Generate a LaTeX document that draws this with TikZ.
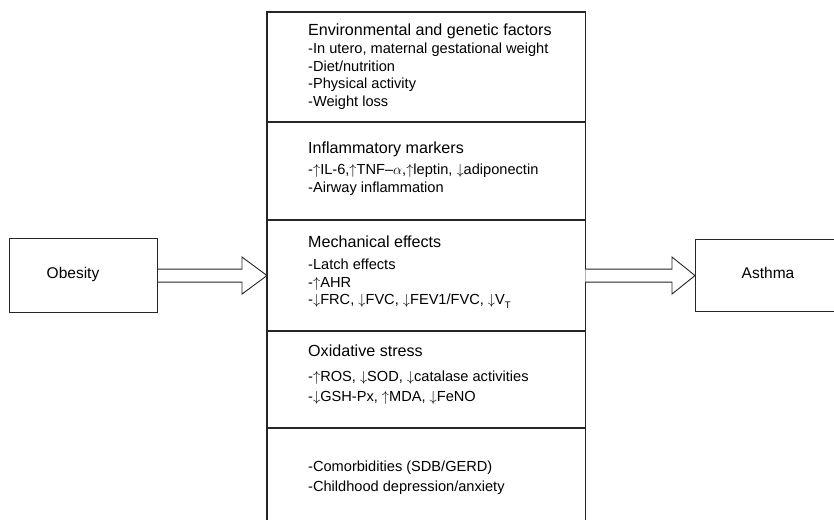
\documentclass[tikz,border=0pt]{standalone}
\usepackage{fontspec}
\setmainfont{Liberation Sans}
\usetikzlibrary{calc}
\begin{document}
\begin{tikzpicture}[x=1pt,y=-1pt,
  frame/.style={draw=black!85, line width=1.1pt},
  sectitle/.style={anchor=base west, inner sep=0pt, font=\fontsize{16.1}{18}\selectfont},
  item/.style={anchor=base west, inner sep=0pt, font=\fontsize{14.6}{17}\selectfont},
  endbox/.style={draw=black!85, line width=1.1pt, rectangle, inner sep=0pt},
  endtext/.style={anchor=base, inner sep=0pt, font=\fontsize{15.5}{18}\selectfont},
  blockarrow/.style={draw=black!85, line width=0.9pt, fill=white, line join=miter}]
\useasboundingbox (0,0) rectangle (834,519);
\clip (0,0) rectangle (834,519);

% main column
\node[minimum width=318pt, minimum height=520pt, anchor=north west, inner sep=0pt] (main) at (267,12) {};
\draw[frame] (main.south west) -- (main.north west) -- (main.north east) -- (main.south east);
\draw[frame] (main.west |- 0,122) -- (main.east |- 0,122);
\draw[frame] (main.west |- 0,220) -- (main.east |- 0,220);
\draw[frame] (main.west |- 0,331) -- (main.east |- 0,331);
\draw[frame] (main.west |- 0,428) -- (main.east |- 0,428);

% section 1
\node[sectitle] (s1t) at (308,36) {Environmental and genetic factors};
\node[item] (s1a) at (308,53.5) {-In utero, maternal gestational weight};
\node[item] (s1b) at (308,71) {-Diet/nutrition};
\node[item] (s1c) at (308,88.5) {-Physical activity};
\node[item] (s1d) at (308,106) {-Weight loss};

% section 2
\node[sectitle] (s2t) at (308,153) {Inflammatory markers};
\node[item] (s2a) at (308,174) {-$\uparrow$IL-6,$\uparrow$TNF\textendash$\alpha$,$\uparrow$leptin, $\downarrow$adiponectin};
\node[item] (s2b) at (308,192.5) {-Airway inflammation};

% section 3
\node[sectitle] (s3t) at (308,247) {Mechanical effects};
\node[item] (s3a) at (308,269.5) {-Latch effects};
\node[item] (s3b) at (308,287) {-$\uparrow$AHR};
\node[item] (s3c) at (308,304) {-$\downarrow$FRC, $\downarrow$FVC, $\downarrow$FEV1/FVC, $\downarrow$V\raisebox{-0.55ex}{\fontsize{9.5}{10}\selectfont T}};

% section 4
\node[sectitle] (s4t) at (308,356) {Oxidative stress};
\node[item] (s4a) at (308,381) {-$\uparrow$ROS, $\downarrow$SOD, $\downarrow$catalase activities};
\node[item] (s4b) at (308,401) {-$\downarrow$GSH-Px, $\uparrow$MDA, $\downarrow$FeNO};

% section 5
\node[item] (s5a) at (308,471) {-Comorbidities (SDB/GERD)};
\node[item] (s5b) at (308,491) {-Childhood depression/anxiety};

% end boxes
\node[endbox, minimum width=148pt, minimum height=74pt, anchor=north west] (ob) at (9,238) {};
\node[endtext] (obt) at (73,278) {Obesity};
\node[endbox, minimum width=160pt, minimum height=72pt, anchor=north west] (as) at (695,239) {};
\node[endtext] (ast) at (768,278) {Asthma};

% block arrows
\draw[blockarrow] ($(ob.east)+(0,-6.5)$) -- ($(ob.east -| main.west)+(-25,-6.5)$)
  -- ($(ob.east -| main.west)+(-25,-18.5)$) -- (ob.east -| main.west)
  -- ($(ob.east -| main.west)+(-25,18.5)$) -- ($(ob.east -| main.west)+(-25,6.5)$)
  -- ($(ob.east)+(0,6.5)$);
\draw[blockarrow] ($(main.east |- as.west)+(0,-6.5)$) -- ($(as.west)+(-23,-6.5)$)
  -- ($(as.west)+(-23,-18.5)$) -- (as.west)
  -- ($(as.west)+(-23,18.5)$) -- ($(as.west)+(-23,6.5)$)
  -- ($(main.east |- as.west)+(0,6.5)$);
\end{tikzpicture}
\end{document}
